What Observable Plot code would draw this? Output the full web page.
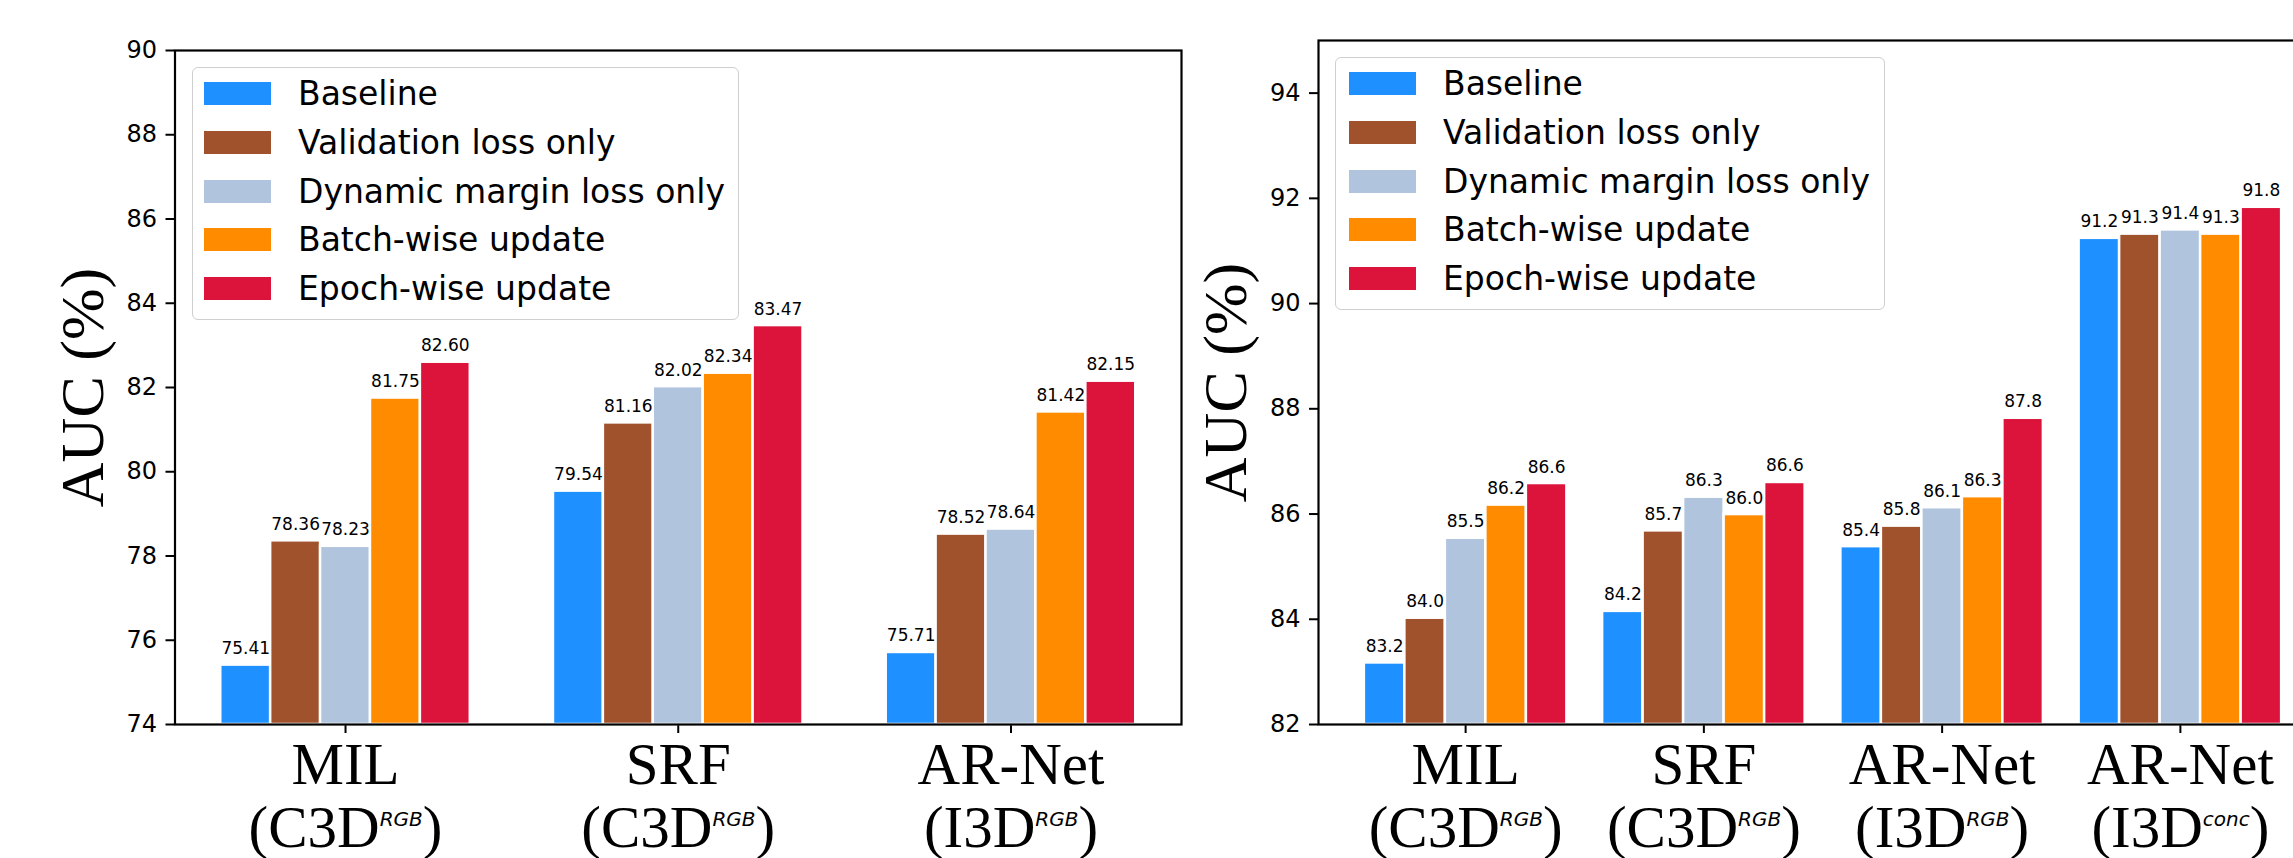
<!DOCTYPE html>
<html><head><meta charset="utf-8">
<script src="https://cdn.jsdelivr.net/npm/d3@7"></script>
<script src="https://cdn.jsdelivr.net/npm/@observablehq/plot@0.6"></script>
<style>
html,body{margin:0;padding:0;background:#fff;overflow:hidden}
#wrap{position:relative;width:2293px;height:858px;overflow:hidden;background:#fff}
#wrap svg{position:absolute;top:0}
.legend{position:absolute;box-sizing:border-box;border:1.5px solid #cfcfcf;border-radius:6px;background:rgba(255,255,255,0.8);font-family:"DejaVu Sans";font-size:33px;color:#000;padding:2px 0 8px 0;white-space:nowrap}
.legend .row{height:48.6px;display:flex;align-items:center}
.legend .sw{width:67px;height:23px;margin-right:27px;flex:none}
g.tick line, g[aria-label$="tick"] path {stroke-width:2px}
</style></head><body><div id="wrap"></div><script>
const series = ["Baseline", "Validation loss only", "Dynamic margin loss only", "Batch-wise update", "Epoch-wise update"];
const colors = ["#1E90FF", "#A0522D", "#B0C4DE", "#FF8C00", "#DC143C"];

const leftGroups = ["MIL", "SRF", "AR-Net"];
const leftBackbones = ["C3D", "C3D", "I3D"];
const leftModalities = ["RGB", "RGB", "RGB"];
const leftValues = [
  [75.41, 78.36, 78.23, 81.75, 82.60],
  [79.54, 81.16, 82.02, 82.34, 83.47],
  [75.71, 78.52, 78.64, 81.42, 82.15]
];
const leftLabels = [
  ["75.41", "78.36", "78.23", "81.75", "82.60"],
  ["79.54", "81.16", "82.02", "82.34", "83.47"],
  ["75.71", "78.52", "78.64", "81.42", "82.15"]
];
const leftYTicks = [74, 76, 78, 80, 82, 84, 86, 88, 90];

const rightGroups = ["MIL", "SRF", "AR-Net", "AR-Net"];
const rightBackbones = ["C3D", "C3D", "I3D", "I3D"];
const rightModalities = ["RGB", "RGB", "RGB", "conc"];
const rightValues = [
  [83.17, 84.02, 85.54, 86.17, 86.58],
  [84.15, 85.68, 86.32, 85.99, 86.60],
  [85.38, 85.77, 86.12, 86.33, 87.82],
  [91.24, 91.32, 91.40, 91.32, 91.83]
];
const rightLabels = [
  ["83.2", "84.0", "85.5", "86.2", "86.6"],
  ["84.2", "85.7", "86.3", "86.0", "86.6"],
  ["85.4", "85.8", "86.1", "86.3", "87.8"],
  ["91.2", "91.3", "91.4", "91.3", "91.8"]
];
const rightYTicks = [82, 84, 86, 88, 90, 92, 94];
const yTitle = "AUC (%)";

const wrap = document.getElementById("wrap");

function panel(cfg) {
  const {groups, backbones, modalities, values, labels, yTicks, yDomain, barWidth, xDomain,
         left, width, marginLeft, marginRight, marginTop, legendBox} = cfg;
  const bars = [];
  groups.forEach((g, gi) => series.forEach((s, si) => {
    const c = gi + (si - (series.length - 1) / 2) * barWidth;
    bars.push({group: g, series: s, value: values[gi][si], label: labels[gi][si],
               x1: c - barWidth / 2, x2: c + barWidth / 2, xc: c});
  }));
  const cats = groups.map((g, i) => ({i, name: g, sub: `(${backbones[i]}^${modalities[i]})`}));
  const plot = Plot.plot({
    width, height: 858, marginLeft, marginRight, marginTop, marginBottom: 134,
    style: {fontFamily: "DejaVu Sans", fontSize: "24px", color: "black", background: "transparent", overflow: "visible"},
    x: {type: "linear", domain: xDomain, ticks: groups.map((g, i) => i), tickFormat: () => "", tickSize: 9, label: null},
    y: {domain: yDomain, ticks: yTicks, tickSize: 9, tickPadding: 9, label: null},
    color: {domain: series, range: colors},
    marks: [
      Plot.rect(bars, {x1: "x1", x2: "x2", y1: () => yDomain[0], y2: "value", fill: "series", stroke: "white", strokeWidth: 2.5}),
      Plot.text(bars, {x: "xc", y: "value", text: "label", dy: -11, lineAnchor: "bottom", fontSize: 17, fontFamily: "DejaVu Sans"}),
      Plot.text(cats, {x: "i", frameAnchor: "bottom", text: "name", dy: 59, lineAnchor: "bottom", fontSize: 59, fontFamily: "Liberation Serif"}),
      Plot.text(cats, {x: "i", frameAnchor: "bottom", text: "sub", dy: 122, lineAnchor: "bottom", fontSize: 59, fontFamily: "Liberation Serif"}),
      Plot.text([yTitle], {frameAnchor: "left", textAnchor: "middle", text: d => d, rotate: -90, dx: -72.5, lineAnchor: "bottom", fontSize: 62, fontFamily: "Liberation Serif"}),
      Plot.frame({stroke: "black", strokeWidth: 2.2})
    ]
  });
  d3.select(plot).selectAll("text").filter(function() { return this.textContent.includes("^"); }).each(function() {
    const [a, b] = this.textContent.split("^");
    const sup = b.slice(0, -1), close = b.slice(-1);
    const t = d3.select(this);
    t.text(null);
    t.append("tspan").text(a);
    t.append("tspan").attr("dy", -21).attr("font-size", 20).attr("font-style", "italic").attr("font-family", "DejaVu Sans").text(sup);
    t.append("tspan").attr("dy", 21).text(close);
  });
  plot.style.left = left + "px";
  wrap.appendChild(plot);

  const lg = document.createElement("div");
  lg.className = "legend";
  Object.assign(lg.style, {left: legendBox.x + "px", top: legendBox.y + "px", width: legendBox.w + "px", height: legendBox.h + "px"});
  series.forEach((s, i) => {
    const row = document.createElement("div");
    row.className = "row";
    const sw = document.createElement("span");
    sw.className = "sw";
    sw.style.background = colors[i];
    sw.style.marginLeft = legendBox.pad + "px";
    const tx = document.createElement("span");
    tx.textContent = s;
    row.appendChild(sw); row.appendChild(tx);
    lg.appendChild(row);
  });
  wrap.appendChild(lg);
}

panel({groups: leftGroups, backbones: leftBackbones, modalities: leftModalities, values: leftValues, labels: leftLabels,
  yTicks: leftYTicks, yDomain: [74, 90], barWidth: 0.15, xDomain: [-0.5125, 2.5125],
  left: 0, width: 1200, marginLeft: 174.5, marginRight: 19, marginTop: 50,
  legendBox: {x: 192, y: 66.7, w: 547, h: 253, pad: 11}});

panel({groups: rightGroups, backbones: rightBackbones, modalities: rightModalities, values: rightValues, labels: rightLabels,
  yTicks: rightYTicks, yDomain: [82, 95], barWidth: 0.17, xDomain: [-0.6175, 3.6175],
  left: 1185, width: 1152, marginLeft: 133, marginRight: 10, marginTop: 40,
  legendBox: {x: 1335, y: 56.7, w: 550, h: 253, pad: 13}});
</script></body></html>
